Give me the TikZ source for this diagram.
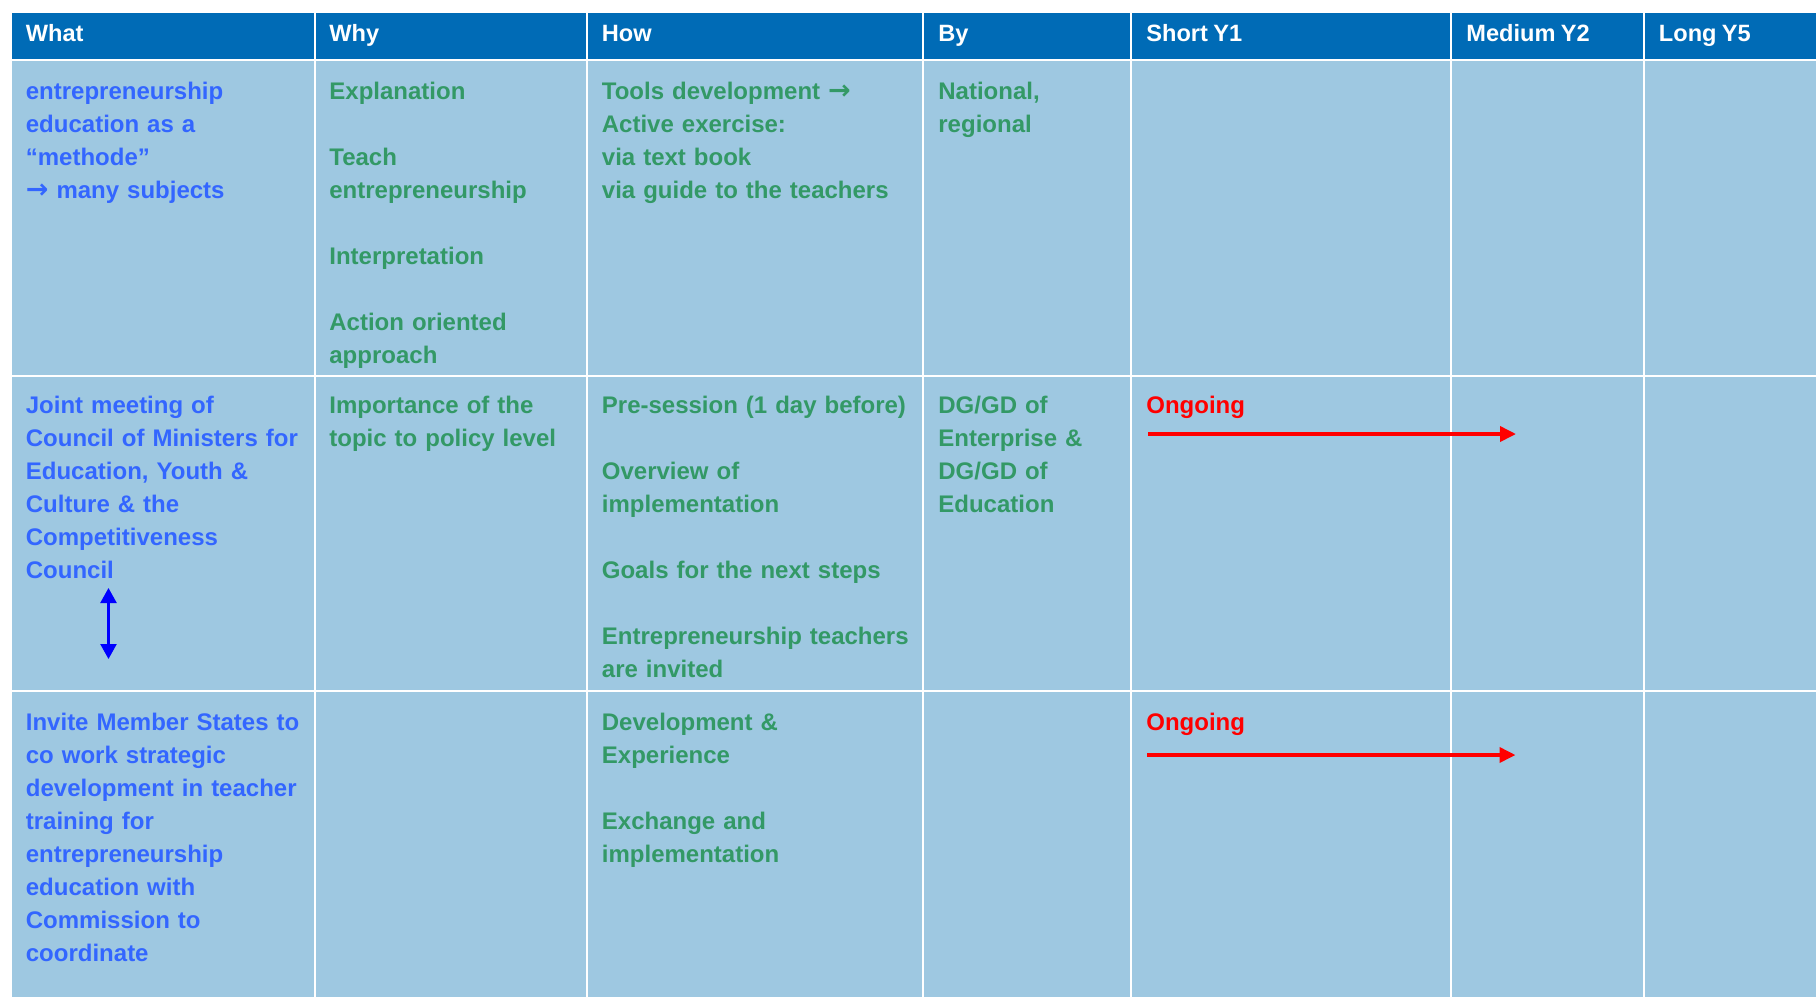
\documentclass[tikz,border=0pt]{standalone}
\usepackage{fontspec}
\setmainfont{Liberation Sans}[WordSpace=0.8]
\newfontfamily\arrowfont{DejaVu Sans}
\usepackage{tikz}
\usetikzlibrary{arrows.meta}

\definecolor{hdrblue}{RGB}{0,107,182}
\definecolor{cellblue}{RGB}{158,200,225}
\definecolor{whatblue}{RGB}{51,102,255}
\definecolor{whygreen}{RGB}{51,153,102}
\definecolor{ongred}{RGB}{255,0,0}
\definecolor{linkblue}{RGB}{0,0,255}

\begin{document}
\begin{tikzpicture}[%
  x=0.5pt, y=-0.5pt,
  >={Triangle[length=8pt, width=7.5pt]},
  grid/.style={white, line width=1pt},
  head/.style={anchor=base west, inner sep=0pt, text=white,
    font=\fontsize{11.8pt}{14pt}\selectfont\bfseries},
  cell/.style={anchor=base west, inner sep=0pt, text width=200pt, align=left,
    font=\fontsize{12pt}{16.55pt}\selectfont\bfseries},
  what/.style={cell, text=whatblue},
  why/.style={cell, text=whygreen},
  ongoing/.style={cell, text=ongred},
  ongarrow/.style={->, ongred, line width=1.8pt},
  link/.style={<->, linkblue, line width=1.2pt,
    >={Triangle[length=7.5pt, width=8pt]}},
]

  \useasboundingbox[fill=white] (0,0) rectangle (1816,997);

  % table body and header band
  \fill[cellblue] (12,59) rectangle (1816,997);
  \fill[hdrblue] (12,12.7) rectangle (1816,59);

  % white grid
  \foreach \x in {314.5,587,923,1131,1451,1644}
    \draw[grid] (\x,12.7) -- (\x,997);
  \foreach \y in {59.7,375.5,690.7}
    \draw[grid] (12,\y) -- (1816,\y);

  % header
  \node[head] (hWhat)  at (25.5,41)  {What};
  \node[head] (hWhy)   at (329,41)   {Why};
  \node[head] (hHow)   at (601.5,41) {How};
  \node[head] (hBy)    at (938,41)   {By};
  \node[head] (hShort) at (1146,41)  {Short Y1};
  \node[head] (hMed)   at (1466,41)  {Medium Y2};
  \node[head] (hLong)  at (1658.5,41){Long Y5};

  % row 1
  \node[what] (whatA) at (25.5,99)
    {entrepreneurship\\ education as a\\ “methode”\\
     {\arrowfont\bfseries\fontsize{13.5pt}{16.55pt}\selectfont →} many subjects};
  \node[why] (whyA) at (329,99)
    {Explanation\\[\baselineskip] Teach\\ entrepreneurship\\[\baselineskip]
     Interpretation\\[\baselineskip] Action oriented\\ approach};
  \node[why] (howA) at (601.5,99)
    {Tools development {\arrowfont\bfseries\fontsize{13.5pt}{16.55pt}\selectfont →}\\
     Active exercise:\\ via text book\\ via guide to the teachers};
  \node[why] (byA) at (938,99) {National,\\ regional};

  % row 2
  \node[what] (whatB) at (25.5,413)
    {Joint meeting of\\ Council of Ministers for\\ Education, Youth \&\\
     Culture \& the\\ Competitiveness\\ Council};
  \node[why] (whyB) at (329,413) {Importance of the\\ topic to policy level};
  \node[why] (howB) at (601.5,413)
    {Pre-session (1 day before)\\[\baselineskip] Overview of\\ implementation\\[\baselineskip]
     Goals for the next steps\\[\baselineskip] Entrepreneurship teachers\\ are invited};
  \node[why] (byB) at (938,413)
    {DG/GD of\\ Enterprise \&\\ DG/GD of\\ Education};
  \node[ongoing] (ongB) at (1146,413) {Ongoing};

  % row 3
  \node[what] (whatC) at (25.5,730)
    {Invite Member States to\\ co work strategic\\ development in teacher\\
     training for\\ entrepreneurship\\ education with\\ Commission to\\ coordinate};
  \node[why] (howC) at (601.5,730)
    {Development \&\\ Experience\\[\baselineskip] Exchange and\\ implementation};
  \node[ongoing] (ongC) at (1146,730) {Ongoing};

  % arrows
  \coordinate (ongBa) at (1148,434);
  \coordinate (ongBb) at (1516,434);
  \coordinate (ongCa) at (1147,755);
  \coordinate (ongCb) at (1515.5,755);
  \coordinate (linkUp) at (108.5,588);
  \coordinate (linkDn) at (108.5,659);

  \draw[ongarrow] (ongBa) -- (ongBb);
  \draw[ongarrow] (ongCa) -- (ongCb);
  \draw[link] (linkUp) -- (linkDn);

\end{tikzpicture}
\end{document}
